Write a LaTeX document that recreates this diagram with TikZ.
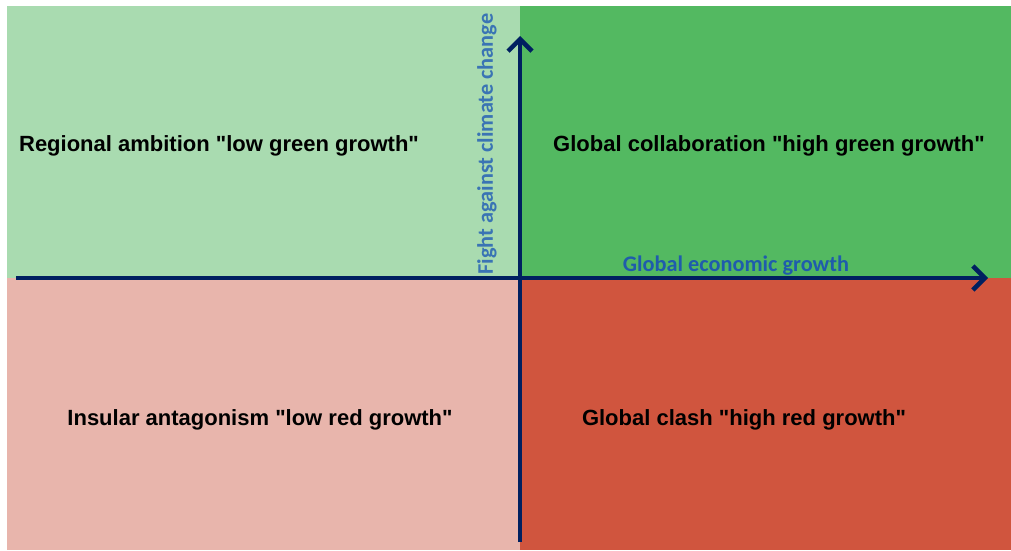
\documentclass[tikz,border=0pt]{standalone}
\usepackage{fontspec}
\setmainfont{Liberation Sans}
\newfontfamily\axisfont{Carlito}
\usetikzlibrary{arrows.meta}
\definecolor{paleGreen}{HTML}{A9DBB0}
\definecolor{darkGreen}{HTML}{53B961}
\definecolor{paleRed}{HTML}{E8B5AC}
\definecolor{darkRed}{HTML}{D0553E}
\definecolor{axisNavy}{HTML}{002060}
\definecolor{labelBlue}{HTML}{3A74B4}
\definecolor{labelBlueDk}{HTML}{1F5CAC}
\newcommand{\qt}{\textquotedbl}
\begin{document}
\begin{tikzpicture}[x=1pt, y=-1pt,
    quadlabel/.style={font=\fontsize{22}{24}\selectfont\bfseries, text=black, inner sep=0pt},
    axislabel/.style={font=\axisfont\fontsize{22.3}{24}\selectfont\bfseries, inner sep=0pt},
    axisline/.style={axisNavy, line width=4.5pt, -{Straight Barb[length=12pt,width=24pt]}}]
  \useasboundingbox (0,0) rectangle (1011,550);
  % Quadrants
  \fill[paleGreen] (7,6) rectangle (520,278);
  \fill[darkGreen] (520,6) rectangle (1011,278);
  \fill[paleRed] (7,278) rectangle (520,550);
  \fill[darkRed] (520,278) rectangle (1011,550);

  % Scenario names
  \node[quadlabel] (regional) at (219,146) {Regional ambition \qt low green growth\qt};
  \node[quadlabel] (collab) at (769,146) {Global collaboration \qt high green growth\qt};
  \node[quadlabel] (insular) at (260,420) {Insular antagonism \qt low red growth\qt};
  \node[quadlabel] (clash) at (744,420) {Global clash \qt high red growth\qt};

  % Axes
  \coordinate (xstart) at (16,278);
  \coordinate (xend) at (988,278);
  \coordinate (ystart) at (520,542);
  \coordinate (yend) at (520,36);
  \draw[axisline] (xstart) -- (xend);
  \draw[axisline] (ystart) -- (yend);
  \node[axislabel, text=labelBlueDk] (growth) at (736,266) {Global economic growth};
  \node[axislabel, text=labelBlue, rotate=90] (climate) at (487,144) {Fight against climate change};
\end{tikzpicture}
\end{document}
